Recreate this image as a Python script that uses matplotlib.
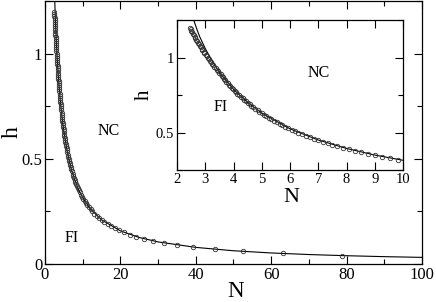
import matplotlib
matplotlib.use("Agg")
import matplotlib.pyplot as plt
from matplotlib.ticker import MultipleLocator

plt.rcParams['font.family'] = ['Liberation Serif', 'DejaVu Serif']

# circle data (h, N)
h_circ = [0.04, 0.05, 0.06, 0.07, 0.08, 0.09, 0.10, 0.11, 0.12, 0.13,
          0.14, 0.15, 0.16, 0.17, 0.18, 0.19, 0.20, 0.21, 0.22, 0.23,
          0.24, 0.25, 0.26, 0.27, 0.28, 0.29, 0.30, 0.31, 0.32, 0.33,
          0.34, 0.35, 0.36, 0.37, 0.38, 0.39, 0.40, 0.41, 0.42, 0.43,
          0.44, 0.45, 0.46, 0.47, 0.48, 0.49, 0.50, 0.51, 0.52, 0.53,
          0.54, 0.55, 0.56, 0.57, 0.58, 0.59, 0.60, 0.61, 0.62, 0.63,
          0.64, 0.65, 0.66, 0.67, 0.68, 0.69, 0.70, 0.71, 0.72, 0.73,
          0.74, 0.75, 0.76, 0.77, 0.78, 0.79, 0.80, 0.81, 0.82, 0.83,
          0.84, 0.85, 0.86, 0.87, 0.88, 0.89, 0.90, 0.91, 0.92, 0.93,
          0.94, 0.95, 0.96, 0.97, 0.98, 0.99, 1.00, 1.01, 1.02, 1.03,
          1.04, 1.05, 1.06, 1.07, 1.08, 1.09, 1.10, 1.11, 1.12, 1.13,
          1.14, 1.15, 1.16, 1.17, 1.18, 1.19, 1.20]
N_circ = [78.75, 63.0, 52.5, 45.0, 39.38, 35.0, 31.5, 28.64, 26.25, 24.23,
          22.5, 21.0, 19.69, 18.53, 17.5, 16.58, 15.75, 15.0, 14.32, 13.70,
          13.13, 12.6, 12.12, 11.67, 11.25, 10.86, 10.5, 10.16, 9.84, 9.55,
          9.26, 9.0, 8.75, 8.51, 8.29, 8.08, 7.88, 7.68, 7.5, 7.33,
          7.16, 7.0, 6.85, 6.70, 6.56, 6.43, 6.3, 6.18, 6.06, 5.94,
          5.83, 5.73, 5.63, 5.53, 5.43, 5.34, 5.25, 5.16, 5.08, 5.0,
          4.92, 4.85, 4.77, 4.70, 4.63, 4.57, 4.5, 4.44, 4.38, 4.32,
          4.26, 4.2, 4.14, 4.09, 4.04, 3.99, 3.94, 3.89, 3.84, 3.80,
          3.75, 3.71, 3.66, 3.62, 3.58, 3.54, 3.5, 3.45, 3.41, 3.37,
          3.32, 3.28, 3.24, 3.20, 3.16, 3.12, 3.08, 3.05, 3.01, 2.97,
          2.94, 2.90, 2.87, 2.84, 2.81, 2.77, 2.74, 2.71, 2.68, 2.65,
          2.62, 2.59, 2.57, 2.54, 2.51, 2.48, 2.46]

# solid line data
N_line = [2.5, 2.6, 2.7, 2.8, 3.0, 3.2, 3.5, 4.0, 4.5, 5.0, 6.0, 7.0, 8.0,
          9.0, 10.0, 12.0, 15.0, 20.0, 25.0, 30.0, 40.0, 50.0, 60.0, 70.0,
          80.0, 90.0, 100.0]
h_line = [1.30, 1.245, 1.19, 1.14, 1.06, 0.99, 0.90, 0.788, 0.70, 0.63,
          0.525, 0.45, 0.394, 0.35, 0.315, 0.2625, 0.21, 0.1575, 0.126,
          0.105, 0.079, 0.063, 0.0525, 0.045, 0.0394, 0.035, 0.0315]

main_xticks = [0, 20, 40, 60, 80, 100]
main_yticks = [0, 0.5, 1]
main_yticklabels = ['0', '0.5', '1']
inset_xticks = [2, 3, 4, 5, 6, 7, 8, 9, 10]
inset_yticks = [0.5, 1]
inset_yticklabels = ['0.5', '1']

fig = plt.figure(figsize=(4.36, 3.02), dpi=100)

def style(ax, lab, maj, minl):
    ax.tick_params(which='both', direction='in', top=True, right=True,
                   labelsize=lab, width=0.8, pad=2)
    ax.tick_params(which='major', length=maj)
    ax.tick_params(which='minor', length=minl)
    for s in ax.spines.values():
        s.set_linewidth(0.9)

ax = fig.add_axes([0.1032, 0.1258, 0.8647, 0.8709])
ax.plot(N_line, h_line, color='black', lw=0.8)
ax.plot(N_circ, h_circ, linestyle='none', marker='o', markersize=3.2,
        markerfacecolor='none', markeredgecolor='#333333', markeredgewidth=0.6)
ax.set_xlim(0, 100)
ax.set_ylim(0, 1.25)
ax.set_xticks(main_xticks)
ax.set_xticklabels([str(t) for t in main_xticks])
ax.set_yticks(main_yticks)
ax.set_yticklabels(main_yticklabels)
ax.xaxis.set_minor_locator(MultipleLocator(10))
ax.yaxis.set_minor_locator(MultipleLocator(0.25))
style(ax, 12, 5.5, 3.5)
ax.set_xlabel('N', fontsize=16.5, ha='center', va='center')
ax.set_ylabel('h', fontsize=17, ha='center', va='center')
ax.xaxis.set_label_coords(0.505, -0.105)
ax.yaxis.set_label_coords(-0.088, 0.5)
ax.text(17.0, 0.63, 'NC', fontsize=11.5, ha='center', va='center')
ax.text(7.2, 0.125, 'FI', fontsize=11.5, ha='center', va='center')

ins = fig.add_axes([0.406, 0.437, 0.5183, 0.4967])
ins.plot(N_line, h_line, color='black', lw=0.8)
ins.plot(N_circ, h_circ, linestyle='none', marker='o', markersize=3.2,
         markerfacecolor='none', markeredgecolor='#333333', markeredgewidth=0.6)
ins.set_xlim(2, 10)
ins.set_ylim(0.25, 1.25)
ins.set_xticks(inset_xticks)
ins.set_xticklabels([str(t) for t in inset_xticks])
ins.set_yticks(inset_yticks)
ins.set_yticklabels(inset_yticklabels)
ins.yaxis.set_minor_locator(MultipleLocator(0.25))
style(ins, 10.5, 5.5, 3.5)
ins.set_xlabel('N', fontsize=16, ha='center', va='center')
ins.set_ylabel('h', fontsize=15, ha='center', va='center')
ins.xaxis.set_label_coords(0.504, -0.18)
ins.yaxis.set_label_coords(-0.146, 0.5)
ins.text(7.0, 0.90, 'NC', fontsize=11.5, ha='center', va='center')
ins.text(3.55, 0.67, 'FI', fontsize=11.5, ha='center', va='center')

fig.savefig('out.png', dpi=100)
